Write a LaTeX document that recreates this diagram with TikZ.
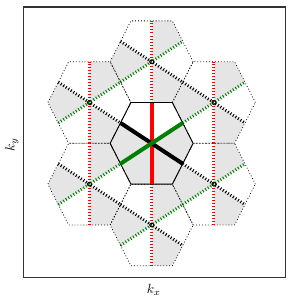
\documentclass[tikz,border=0pt]{standalone}
\usetikzlibrary{positioning}
\definecolor{ZoneShade}{HTML}{E5E5E5}
\definecolor{ZoneRed}{HTML}{FF0000}
\definecolor{ZoneGreen}{HTML}{008000}
\definecolor{ZoneFrame}{HTML}{333333}
\tikzset{
  zoneedge/.style={black,line width=0.6pt,dash pattern=on 0.6pt off 1.6pt},
  zonemain/.style={black,line width=0.7pt},
  cutdash/.style={line width=2.2pt,dash pattern=on 0.75pt off 1.5pt},
  cutmain/.style={line width=3pt},
  gammamark/.style={black,line width=0.6pt},
  axislabel/.style={font=\fontsize{10}{12}\selectfont}
}
\begin{document}
\begin{tikzpicture}[x=31.1pt,y=30.6pt]
  \useasboundingbox (-3.655,-3.740) rectangle (3.333,3.512);

  % shaded sectors of the neighbouring zones
  \foreach \cx/\cy in {0/2,0/-2,-1.5/1,1.5/1,-1.5/-1,1.5/-1}{
    \begin{scope}[shift={(\cx,\cy)}]
      \fill[ZoneShade] (0,0) -- (0,1) -- (0.5,1) -- (0.75,0.5) -- cycle;
      \fill[ZoneShade] (0,0) -- (-0.75,0.5) -- (-1,0) -- (-0.75,-0.5) -- cycle;
      \fill[ZoneShade] (0,0) -- (0.75,-0.5) -- (0.5,-1) -- (0,-1) -- cycle;
    \end{scope}
  }
  % shaded part of the first zone
  \fill[ZoneShade] (0,0) -- (-0.75,0.5) -- (-1,0) -- (-0.5,-1) -- (0.5,-1)
    -- (1,0) -- (0.75,0.5) -- cycle;

  % neighbouring zones
  \foreach \cx/\cy in {0/2,0/-2,-1.5/1,1.5/1,-1.5/-1,1.5/-1}{
    \begin{scope}[shift={(\cx,\cy)}]
      \draw[zoneedge] (1,0) -- (0.5,1) -- (-0.5,1) -- (-1,0)
        -- (-0.5,-1) -- (0.5,-1) -- cycle;
      \draw[cutdash,ZoneRed] (0,-1) -- (0,1);
      \draw[cutdash,black] (-0.75,0.5) -- (0.75,-0.5);
      \draw[cutdash,ZoneGreen] (-0.75,-0.5) -- (0.75,0.5);
      \draw[gammamark] (0,0) circle[radius=1.5pt];
    \end{scope}
  }

  % first zone
  \draw[zonemain] (1,0) -- (0.5,1) -- (-0.5,1) -- (-1,0)
    -- (-0.5,-1) -- (0.5,-1) -- cycle;
  \draw[cutmain,ZoneRed] (0,-1) -- (0,1);
  \draw[cutmain,black] (-0.75,0.5) -- (0.75,-0.5);
  \draw[cutmain,ZoneGreen] (-0.75,-0.5) -- (0.75,0.5);

  % axes
  \draw[ZoneFrame,line width=0.8pt] (-3.089,-3.289) rectangle (3.229,3.341);
  \node[axislabel] (kx) at (0.05,-3.58) {$k_x$};
  \node[axislabel,rotate=90] (ky) at (-3.37,-0.03) {$k_y$};
\end{tikzpicture}
\end{document}
